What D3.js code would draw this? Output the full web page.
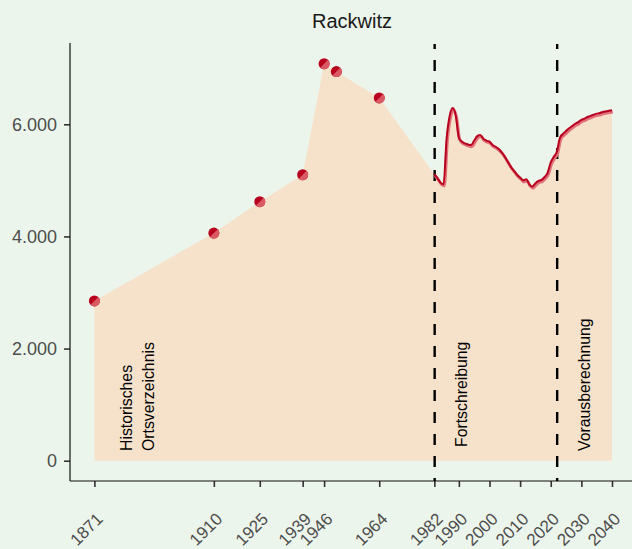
<!DOCTYPE html>
<html><head><meta charset="utf-8">
<script src="https://cdn.jsdelivr.net/npm/d3@7"></script>
<style>
html,body{margin:0;padding:0;background:#ECF5EB;}
svg{display:block;font-family:"Liberation Sans",Arial,sans-serif;}
</style></head><body>
<svg id="chart" width="632" height="549"></svg>
<script>
const title = "Rackwitz";
const histYears = [1871, 1910, 1925, 1939, 1946, 1950, 1964];
const histValues = [2850, 4060, 4620, 5100, 7080, 6940, 6470];
const lineYears = [1982,1983,1984,1985,1986,1987,1988,1989,1990,1991,1992,1993,1994,1995,1996,1997,1998,1999,2000,2001,2002,2003,2004,2005,2006,2007,2008,2009,2010,2011,2012,2013,2014,2015,2016,2017,2018,2019,2020,2021,2022,2023,2024,2025,2026,2027,2028,2029,2030,2031,2032,2033,2034,2035,2036,2037,2038,2039,2040];
const lineValues = [5110,5040,4960,4930,5750,6150,6290,6150,5760,5690,5660,5640,5630,5710,5790,5810,5740,5710,5690,5630,5600,5560,5500,5420,5330,5240,5170,5100,5050,5000,5020,4930,4890,4950,4990,5010,5060,5140,5320,5420,5510,5760,5830,5880,5930,5970,6010,6040,6080,6100,6130,6150,6170,6190,6200,6220,6230,6240,6250];
const xTicks = [1871,1910,1925,1939,1946,1964,1982,1990,2000,2010,2020,2030,2040];
const yTicks = [0,2000,4000,6000];
const phaseLines = [1982, 2022];
const annotations = [
  {year:1881.5, lines:["Historisches","Ortsverzeichnis"]},
  {year:1991, lines:["Fortschreibung"]},
  {year:2031, lines:["Vorausberechnung"]}
];

const svg = d3.select("#chart");
const x = d3.scaleLinear().domain([1871, 2040]).range([94.4, 612]);
const y = d3.scaleLinear().domain([0, 6000]).range([460.7, 124.3]);
const fmt = v => d3.format(",")(v).replace(/,/g, ".");

const allYears = histYears.concat(lineYears);
const allValues = histValues.concat(lineValues);
const areaData = allYears.map((yr, i) => ({yr, v: allValues[i]}));

// area
svg.append("path")
  .datum(areaData)
  .attr("fill", "#F6E2CB")
  .attr("d", d3.area().x(d => x(d.yr)).y0(y(0)).y1(d => y(d.v)));

// title
svg.append("text").attr("x", 352).attr("y", 28).attr("text-anchor", "middle")
  .attr("font-size", 20).attr("fill", "#1a1a1a").text(title);

// y axis
const yAxisG = svg.append("g").attr("transform", "translate(70,0)")
  .call(d3.axisLeft(y).tickValues(yTicks).tickFormat(fmt).tickSize(6).tickPadding(7));
yAxisG.select(".domain").remove();
yAxisG.selectAll(".tick line").attr("stroke", "#333").attr("stroke-width", 1.6);
yAxisG.selectAll(".tick text").attr("fill", "#4d4d4d").attr("font-size", 18)
  .attr("font-family", "Liberation Sans, Arial, sans-serif");
svg.append("line").attr("x1", 70).attr("x2", 70).attr("y1", 43).attr("y2", 481)
  .attr("stroke", "#111").attr("stroke-width", 1.2);

// x axis
const xAxisG = svg.append("g").attr("transform", "translate(0,481)")
  .call(d3.axisBottom(x).tickValues(xTicks).tickFormat(d3.format("d")).tickSize(6).tickPadding(3));
xAxisG.select(".domain").remove();
xAxisG.selectAll(".tick line").attr("stroke", "#333").attr("stroke-width", 1.6);
xAxisG.selectAll(".tick text")
  .attr("fill", "#4d4d4d").attr("font-size", 17)
  .attr("font-family", "Liberation Sans, Arial, sans-serif")
  .attr("text-anchor", "end")
  .attr("y", 0).attr("dy", 0)
  .attr("transform", "translate(9,39) rotate(-45)");
svg.append("line").attr("x1", 70).attr("x2", 632).attr("y1", 481).attr("y2", 481)
  .attr("stroke", "#111").attr("stroke-width", 1.2);

// phase dashed lines
svg.selectAll("line.phase").data(phaseLines).enter().append("line")
  .attr("class", "phase")
  .attr("x1", d => x(d) + 0.3).attr("x2", d => x(d) + 0.3)
  .attr("y1", 44).attr("y2", 481)
  .attr("stroke", "#000").attr("stroke-width", 2.4)
  .attr("stroke-dasharray", "11,11").attr("stroke-dashoffset", 6);

// annotations
annotations.forEach(a => {
  a.lines.forEach((t, i) => {
    const cx = x(a.year) + i * 21.5;
    svg.append("text")
      .attr("transform", `translate(${cx},${a.lines.length === 1 && a.year < 2000 ? 447 : 451}) rotate(-90)`)
      .attr("dy", "0.35em").attr("font-size", 15.8).attr("fill", "#000")
      .text(t);
  });
});

// line (shadow + main)
const lineData = lineYears.map((yr, i) => ({yr, v: lineValues[i]}));
const lineGen = d3.line().x(d => x(d.yr)).y(d => y(d.v)).curve(d3.curveMonotoneX);
svg.append("path").datum(lineData).attr("fill", "none")
  .attr("stroke", "#E0707A").attr("stroke-width", 3).attr("transform", "translate(0.8,1.6)")
  .attr("d", lineGen);
svg.append("path").datum(lineData).attr("fill", "none")
  .attr("stroke", "#B8001F").attr("stroke-width", 2).attr("d", lineGen);

// points
const histData = histYears.map((yr, i) => ({yr, v: histValues[i]}));
const pts = svg.selectAll("g.pt").data(histData).enter().append("g")
  .attr("transform", d => `translate(${x(d.yr)},${y(d.v)})`);
pts.append("circle").attr("r", 5.5).attr("fill", "#B8001F");
pts.append("path").attr("fill", "#D95A62")
  .attr("d", d3.arc().innerRadius(0).outerRadius(5.5).startAngle(Math.PI * 0.25).endAngle(Math.PI * 1.25)());
</script>
</body></html>
